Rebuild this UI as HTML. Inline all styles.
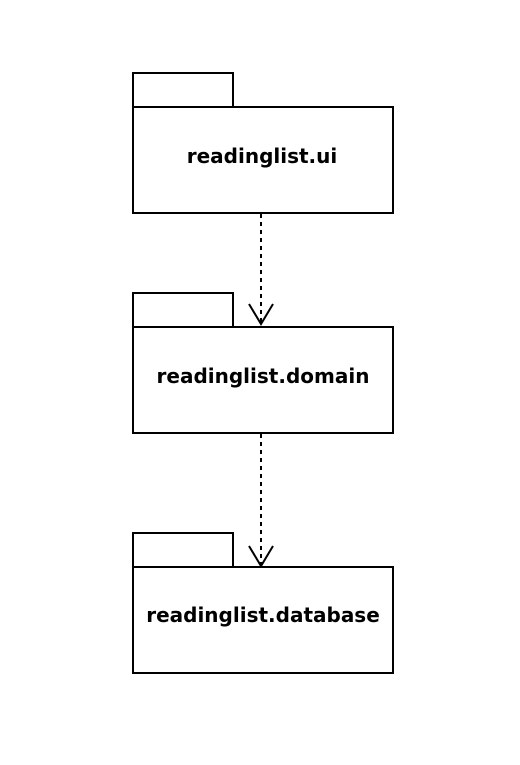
<!DOCTYPE html>
<html><head><style>html,body{margin:0;padding:0;background:#fff;}</style></head>
<body>
<svg width="520" height="760" xmlns="http://www.w3.org/2000/svg">
<g fill="#fff" stroke="#000" stroke-width="2">
<rect x="133" y="73" width="100" height="34"/>
<rect x="133" y="107" width="260" height="106"/>
<rect x="133" y="293" width="100" height="34"/>
<rect x="133" y="327" width="260" height="106"/>
<rect x="133" y="533" width="100" height="34"/>
<rect x="133" y="567" width="260" height="106"/>
</g>
<g stroke="#000" stroke-width="2" fill="none">
<line x1="261" y1="214" x2="261" y2="323" stroke-dasharray="4,4"/>
<polyline points="249,304 261,324 273,304"/>
<line x1="261" y1="434" x2="261" y2="565" stroke-dasharray="4,4"/>
<polyline points="249,546 261,566 273,546"/>
</g>
<g font-family="DejaVu Sans, sans-serif" font-weight="bold" font-size="20" text-anchor="middle" fill="#000">
<text x="262" y="163">readinglist.ui</text>
<text x="263" y="383">readinglist.domain</text>
<text x="263" y="622">readinglist.database</text>
</g>
</svg>
</body></html>
